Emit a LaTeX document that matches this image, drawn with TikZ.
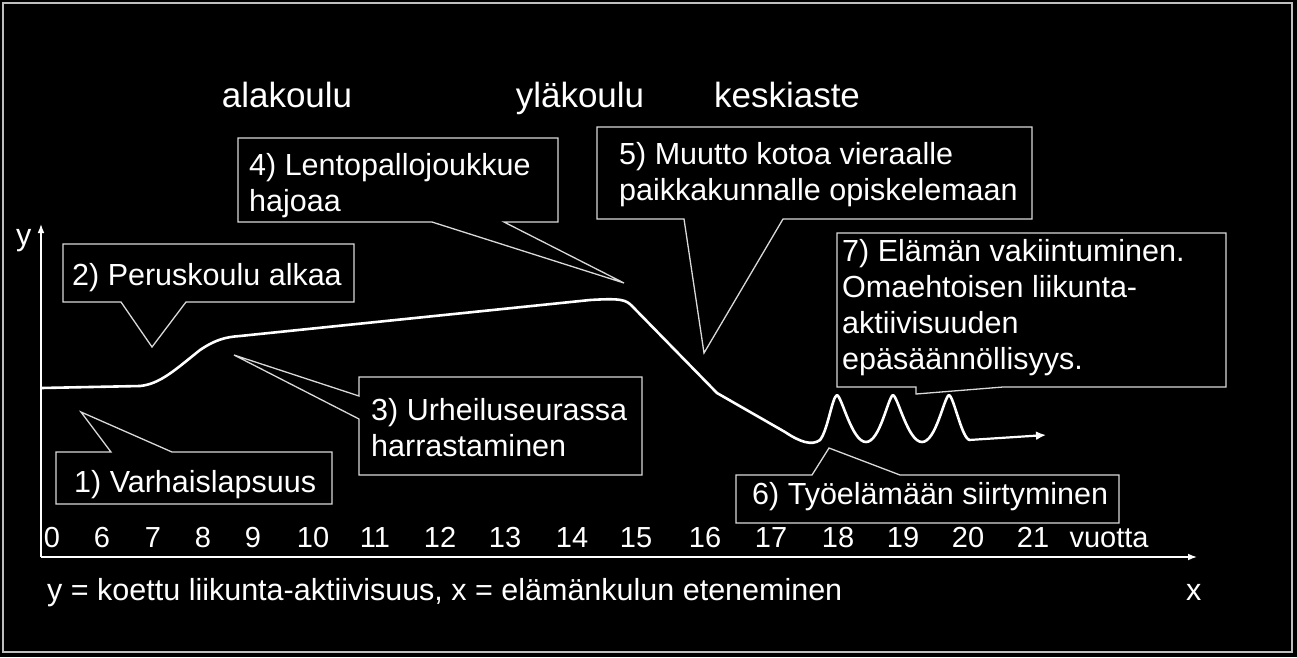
\documentclass[tikz,border=0pt]{standalone}
\usepackage{fontspec}
\setmainfont{Liberation Sans}
\usetikzlibrary{arrows.meta}
\begin{document}
\begin{tikzpicture}[x=1pt,y=-1pt,
 txt/.style={text=white,font=\fontsize{30.5}{36}\selectfont,anchor=base west,inner sep=0pt,align=left},
 top/.style={text=white,font=\fontsize{35}{40}\selectfont,anchor=base,inner sep=0pt},
 tick/.style={text=white,font=\fontsize{29}{30}\selectfont,anchor=base,inner sep=0pt},
 box/.style={draw=white!85!black,line width=1.3pt,fill=black,line join=miter},
 curve/.style={draw=white,line width=2.6pt,line join=round}]
\fill[black] (0,0) rectangle (1297,657);
\useasboundingbox (0,0) rectangle (1297,657);
\draw[white!75!black,line width=1.5pt] (3,3) rectangle (1292,652);
% axes
\draw[white,line width=1.3pt,-{Latex[length=9pt]}] (41,557) coordinate (o) -- (41,224) coordinate (ytop);
\draw[white,line width=1.3pt,-{Latex[length=9pt]}] (o) -- (1197,557) coordinate (xend);
\node[txt] (ylab) at (16,245) {y};
\node[txt] (xlab) at (1186,600) {x};
% curve
\draw[curve] (41,388) -- (140,386) .. controls (160,384) and (175,370) .. (200,350)
 .. controls (215,340) and (225,337) .. (240,336) -- (590,300) .. controls (622,298) and (626,300) .. (632,306)
 -- (717,393) -- (785,432) .. controls (800,442) and (812,446) .. (820,440)
 .. controls (828,430) and (832,397) .. (837,395) .. controls (842,397) and (852,442) .. (866,442)
 .. controls (880,442) and (888,397) .. (893,395) .. controls (898,397) and (908,442) .. (922,442)
 .. controls (936,442) and (944,397) .. (949,395) .. controls (954,397) and (962,440) .. (970,440);
\draw[white,line width=2.2pt,-{Latex[length=10pt,width=9pt]}] (969,440) -- (1046,435);
% callouts
\draw[box] (56,452) -- (111,452) -- (81,412) -- (172,452) -- (332,452) -- (332,504) -- (56,504) -- cycle;
\draw[box] (63,244) -- (354,244) -- (354,302) -- (186,302) -- (152,347) -- (121,302) -- (63,302) -- cycle;
\draw[box] (359,377) -- (642,377) -- (642,475) -- (359,475) -- (359,419) -- (234,355) -- (359,396) -- cycle;
\draw[box] (238,138) -- (558,138) -- (558,222) -- (504,222) -- (624,283) -- (432,222) -- (238,222) -- cycle;
\draw[box] (597,127) -- (1032,127) -- (1032,219) -- (783,219) -- (704,353) -- (684,219) -- (597,219) -- cycle;
\draw[box] (837,233) -- (1226,233) -- (1226,387) -- (1003,387) -- (916,394) -- (916,387) -- (837,387) -- cycle;
\draw[box] (736,475) -- (812,475) -- (829,448) -- (900,475) -- (1119,475) -- (1119,523) -- (736,523) -- cycle;
% texts (multi-line nodes: base = last line)
\node[txt] (t1) at (74,492) {1) Varhaislapsuus};
\node[txt] (t2) at (72,285) {2) Peruskoulu alkaa};
\node[txt] (t3) at (371,456) {3) Urheiluseurassa\\harrastaminen};
\node[txt] (t4) at (249,211) {4) Lentopallojoukkue\\hajoaa};
\node[txt] (t5) at (619,200) {5) Muutto kotoa vieraalle\\paikkakunnalle opiskelemaan};
\node[txt] (t6) at (752,504) {6) Työelämään siirtyminen};
\node[txt] (t7) at (842,369) {7) Elämän vakiintuminen.\\Omaehtoisen liikunta-\\aktiivisuuden\\epäsäännöllisyys.};
\node[top] (a1) at (287,107) {alakoulu};
\node[top] (a2) at (580,107) {yläkoulu};
\node[top] (a3) at (787,107) {keskiaste};
\foreach \v/\p in {0/52,6/102,7/153,8/203,9/253,10/313,11/375,12/440,13/505,14/572,15/636,16/705,17/771,18/838,19/903,20/968,21/1033}
  \node[tick] (n\v) at (\p,547) {\v};
\node[tick] (vu) at (1109,547) {vuotta};
\node[txt] (cap) at (47,600) {y = koettu liikunta-aktiivisuus, x = elämänkulun eteneminen};
\end{tikzpicture}
\end{document}
